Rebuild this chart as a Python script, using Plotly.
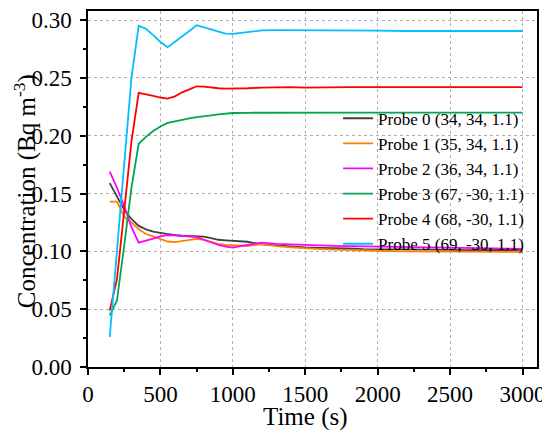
import plotly.graph_objects as go

# time steps (s)
time_s = [150, 200, 250, 300, 350, 400, 450, 500, 550, 600, 650, 700, 750, 800, 850, 900, 950,
          1000, 1100, 1200, 1300, 1400, 1500, 1600, 1700, 1800, 1900, 2000, 2200, 2400, 2600, 2800, 3000]

probe0 = [0.159, 0.147, 0.136, 0.128, 0.122, 0.119, 0.117, 0.116, 0.1147, 0.114, 0.1135, 0.1133, 0.1132,
          0.1128, 0.1115, 0.110, 0.1095, 0.109, 0.1083, 0.106, 0.105, 0.104, 0.1035, 0.103, 0.103, 0.1025,
          0.102, 0.102, 0.1015, 0.1015, 0.101, 0.101, 0.1012]
probe1 = [0.143, 0.143, 0.130, 0.125, 0.119, 0.115, 0.113, 0.111, 0.1085, 0.108, 0.109, 0.110, 0.1107,
          0.110, 0.108, 0.1065, 0.1055, 0.105, 0.1046, 0.1062, 0.1045, 0.1035, 0.1026, 0.102, 0.1015, 0.101,
          0.1005, 0.1005, 0.100, 0.0998, 0.0995, 0.0995, 0.0995]
probe2 = [0.169, 0.155, 0.139, 0.121, 0.1075, 0.109, 0.111, 0.113, 0.114, 0.1138, 0.1133, 0.113, 0.1124,
          0.110, 0.1075, 0.1055, 0.104, 0.1032, 0.1055, 0.1075, 0.1065, 0.106, 0.1052, 0.105, 0.1048, 0.1045,
          0.1043, 0.104, 0.1035, 0.103, 0.1027, 0.1025, 0.1022]
probe3 = [0.0446, 0.0575, 0.105, 0.155, 0.193, 0.199, 0.204, 0.208, 0.211, 0.2125, 0.214, 0.215, 0.216,
          0.2165, 0.2175, 0.2185, 0.2193, 0.2196, 0.2198, 0.2199, 0.2199, 0.220, 0.220, 0.220, 0.220, 0.220,
          0.220, 0.220, 0.220, 0.220, 0.220, 0.220, 0.220]
probe4 = [0.0489, 0.076, 0.135, 0.195, 0.237, 0.236, 0.2345, 0.233, 0.232, 0.234, 0.2375, 0.240, 0.2427,
          0.2425, 0.2415, 0.241, 0.2407, 0.2407, 0.241, 0.2415, 0.2418, 0.2419, 0.2415, 0.2418, 0.242, 0.242,
          0.242, 0.242, 0.242, 0.242, 0.242, 0.242, 0.242]
probe5 = [0.026, 0.10, 0.175, 0.25, 0.295, 0.2925, 0.287, 0.281, 0.2765, 0.281, 0.2858, 0.2905, 0.2955,
          0.294, 0.292, 0.290, 0.2882, 0.288, 0.2895, 0.291, 0.2912, 0.2912, 0.2908, 0.291, 0.2912, 0.2908,
          0.2908, 0.2908, 0.2905, 0.2905, 0.2905, 0.2905, 0.2905]

names = ["Probe 0 (34, 34, 1.1)", "Probe 1 (35, 34, 1.1)", "Probe 2 (36, 34, 1.1)",
         "Probe 3 (67, -30, 1.1)", "Probe 4 (68, -30, 1.1)", "Probe 5 (69, -30, 1.1)"]
colors = ["#404040", "#FF8000", "#FF00FF", "#00A651", "#FF0000", "#00BFFF"]

fig = go.Figure()
for name, vals, c in zip(names, [probe0, probe1, probe2, probe3, probe4, probe5], colors):
    fig.add_trace(go.Scatter(x=time_s, y=vals, mode="lines", name=name,
                             line=dict(color=c, width=1.8)))

font = "Liberation Serif, Times New Roman, serif"
axis_common = dict(
    showline=True, linecolor="black", linewidth=1.5, mirror=True,
    ticks="outside", ticklen=6, tickwidth=1.5, tickcolor="black",
    showgrid=True, gridcolor="#b0b0b0", griddash="dot", gridwidth=1,
    zeroline=False, automargin=False,
    tickfont=dict(family=font, size=23, color="black"),
)

# page body has an 8px margin, so the figure is a bit smaller than the window
fig.update_layout(
    width=542, height=422,
    margin=dict(l=80, r=13, t=3, b=63),
    plot_bgcolor="white", paper_bgcolor="white",
    font=dict(family=font, color="black"),
    xaxis=dict(range=[0, 3100], dtick=500, tick0=0,
               minor=dict(ticks="outside", ticklen=3, dtick=250, tickcolor="black", showgrid=False),
               **axis_common),
    yaxis=dict(range=[0, 0.3078], dtick=0.05, tick0=0, tickformat=".2f", ticklabelstandoff=4,
               minor=dict(ticks="outside", ticklen=3, dtick=0.025, tickcolor="black", showgrid=False),
               **axis_common),
    legend=dict(x=0.557, y=0.748, xanchor="left", yanchor="top",
                bgcolor="rgba(0,0,0,0)", font=dict(family=font, size=17),
                tracegroupgap=0),
    showlegend=True,
)

# axis titles as annotations so their position is fixed
fig.add_annotation(text="Time (s)", xref="x", yref="paper", x=1500, y=0,
                   xanchor="center", yanchor="middle", yshift=-50, showarrow=False,
                   font=dict(family=font, size=25, color="black"))
fig.add_annotation(text="Concentration (Bq m<sup>-3</sup>)", xref="paper", yref="y", x=0, y=0.152,
                   xanchor="center", yanchor="middle", xshift=-63, textangle=-90, showarrow=False,
                   font=dict(family=font, size=25, color="black"))

fig.write_html("out.html")
